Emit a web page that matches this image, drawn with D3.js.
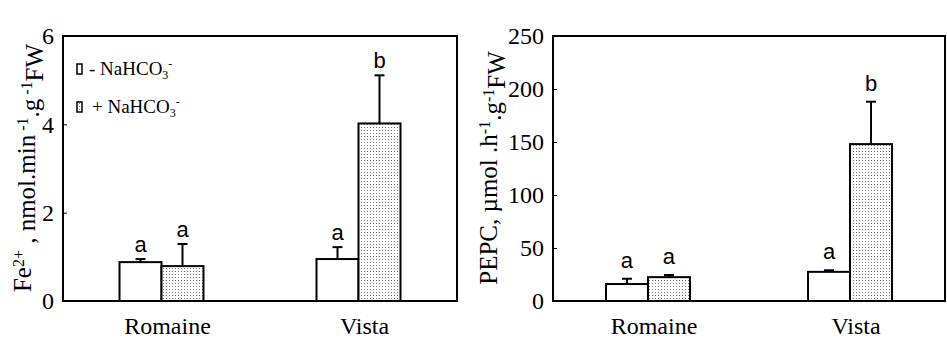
<!DOCTYPE html>
<html>
<head>
<meta charset="utf-8">
<script src="https://cdn.jsdelivr.net/npm/d3@7"></script>
<style>
  body { margin: 0; background: #fff; }
  svg { display: block; }
</style>
</head>
<body>
<div id="chart"></div>
<script>
// Data
const categories = ['Romaine', 'Vista'];
const treatments = ['minus', 'plus'];

const feMinus = [0.88, 0.95];
const feMinusErr = [0.07, 0.27];
const fePlus = [0.79, 4.02];
const fePlusErr = [0.5, 1.09];
const feLetters = [['a', 'a'], ['a', 'b']];
const feTicks = [0, 2, 4, 6];

const pepcMinus = [16, 27.5];
const pepcMinusErr = [5, 1.5];
const pepcPlus = [22.5, 148];
const pepcPlusErr = [2, 40];
const pepcLetters = [['a', 'a'], ['a', 'b']];
const pepcTicks = [0, 50, 100, 150, 200, 250];

const width = 947;
const height = 358;
const serif = 'Liberation Serif';
const sans = 'Liberation Sans';

const svg = d3.select('#chart')
    .append('svg')
    .attr('width', width)
    .attr('height', height);

// dotted fill for the + NaHCO3- bars
const defs = svg.append('defs');
const pat = defs.append('pattern')
    .attr('id', 'dots')
    .attr('patternUnits', 'userSpaceOnUse')
    .attr('width', 3)
    .attr('height', 3);
pat.append('rect').attr('width', 3).attr('height', 3).attr('fill', '#fff');
pat.append('rect').attr('x', 1).attr('y', 1).attr('width', 1).attr('height', 1).attr('fill', '#777');

function drawPanel(opts)
{
    const { left, right, top, bottom, yMax, ticks, minus, minusErr, plus, plusErr, letters, pad, letterGap } = opts;

    const xScale = d3.scalePoint()
        .domain(categories)
        .range([left, right])
        .padding(pad);

    const xInner = d3.scaleBand()
        .domain(treatments)
        .range([-42, 42]);

    const yScale = d3.scaleLinear()
        .domain([0, yMax])
        .range([bottom, top]);

    const g = svg.append('g');

    // y axis with inward ticks, labels drawn separately
    const yAxis = d3.axisRight(yScale)
        .tickValues(ticks)
        .tickSize(4)
        .tickFormat('');
    g.append('g')
        .attr('transform', `translate(${left}, 0)`)
        .call(yAxis)
        .call(a => a.select('.domain').remove())
        .call(a => a.selectAll('line').attr('stroke', '#000').attr('stroke-width', 1));

    g.selectAll('text.ylab')
        .data(ticks)
        .enter().append('text')
        .attr('class', 'ylab')
        .attr('x', left - 9)
        .attr('y', d => yScale(d))
        .attr('dy', '0.35em')
        .attr('text-anchor', 'end')
        .attr('font-family', serif)
        .attr('font-size', 24)
        .text(d => d);

    const rows = categories.map((c, i) => [
        { cat: c, t: 'minus', v: minus[i], e: minusErr[i], letter: letters[i][0] },
        { cat: c, t: 'plus', v: plus[i], e: plusErr[i], letter: letters[i][1] }
    ]).flat();

    const cx = d => xScale(d.cat) + xInner(d.t) + xInner.bandwidth() / 2;

    // error bars (drawn first so the bar outline sits on top)
    const eb = g.selectAll('g.err').data(rows).enter().append('g').attr('class', 'err');
    eb.append('line')
        .attr('x1', cx)
        .attr('x2', cx)
        .attr('y1', d => yScale(d.v))
        .attr('y2', d => yScale(d.v + d.e))
        .attr('stroke', '#000')
        .attr('stroke-width', 2);
    eb.append('line')
        .attr('x1', d => cx(d) - 5)
        .attr('x2', d => cx(d) + 5)
        .attr('y1', d => yScale(d.v + d.e))
        .attr('y2', d => yScale(d.v + d.e))
        .attr('stroke', '#000')
        .attr('stroke-width', 2);

    g.selectAll('rect.bar').data(rows).enter().append('rect')
        .attr('class', 'bar')
        .attr('x', d => xScale(d.cat) + xInner(d.t))
        .attr('y', d => yScale(d.v))
        .attr('width', xInner.bandwidth())
        .attr('height', d => yScale(0) - yScale(d.v))
        .attr('fill', d => d.t === 'plus' ? 'url(#dots)' : '#fff')
        .attr('stroke', '#000')
        .attr('stroke-width', 2);

    g.selectAll('text.letter').data(rows).enter().append('text')
        .attr('class', 'letter')
        .attr('x', cx)
        .attr('y', d => yScale(d.v + d.e) - letterGap)
        .attr('text-anchor', 'middle')
        .attr('font-family', sans)
        .attr('font-size', 22)
        .text(d => d.letter);

    // frame
    g.append('rect')
        .attr('x', left)
        .attr('y', top)
        .attr('width', right - left)
        .attr('height', bottom - top)
        .attr('fill', 'none')
        .attr('stroke', '#000')
        .attr('stroke-width', 2);

    g.selectAll('text.cat').data(categories).enter().append('text')
        .attr('class', 'cat')
        .attr('x', d => xScale(d) + 6)
        .attr('y', 334)
        .attr('text-anchor', 'middle')
        .attr('font-family', serif)
        .attr('font-size', 24)
        .text(d => d);

    return g;
}

// Left panel: Fe2+ reduction
drawPanel({
    left: 63, right: 457, top: 36, bottom: 301, yMax: 6, ticks: feTicks,
    minus: feMinus, minusErr: feMinusErr, plus: fePlus, plusErr: fePlusErr,
    letters: feLetters, pad: 0.5, letterGap: 7
});

// Right panel: PEPC
drawPanel({
    left: 553, right: 945, top: 36, bottom: 301, yMax: 250, ticks: pepcTicks,
    minus: pepcMinus, minusErr: pepcMinusErr, plus: pepcPlus, plusErr: pepcPlusErr,
    letters: pepcLetters, pad: 0.47, letterGap: 11
});

// y axis titles
function yTitle(x, y, parts)
{
    const t = svg.append('text')
        .attr('transform', `translate(${x}, ${y}) rotate(-90)`)
        .attr('text-anchor', 'middle')
        .attr('font-family', serif)
        .attr('font-size', 25);
    parts.forEach(p => {
        const s = t.append('tspan').text(p.text);
        if (p.sup) s.attr('dy', '-0.45em').attr('font-size', 16);
        if (p.back) s.attr('dy', '0.45em');
    });
}

yTitle(31, 168, [
    { text: 'Fe' }, { text: '2+', sup: true }, { text: ' , nmol.min', back: true },
    { text: ' -1', sup: true }, { text: '.g', back: true }, { text: ' -1', sup: true },
    { text: 'FW', back: true }
]);

yTitle(497, 168, [
    { text: 'PEPC, µmol .h' }, { text: '-1', sup: true }, { text: '.g', back: true },
    { text: '-1', sup: true }, { text: 'FW', back: true }
]);

// legend
const legendItems = ['- NaHCO', '+ NaHCO'];
const legend = svg.append('g');
legendItems.forEach((label, i) => {
    const yy = 69 + i * 38;
    legend.append('rect')
        .attr('x', 77)
        .attr('y', yy - 5)
        .attr('width', 5)
        .attr('height', 10)
        .attr('fill', i === 1 ? 'url(#dots)' : '#fff')
        .attr('stroke', '#000')
        .attr('stroke-width', 1.5);
    const t = legend.append('text')
        .attr('x', i === 1 ? 92 : 89)
        .attr('y', yy + 6)
        .attr('font-family', serif)
        .attr('font-size', 19);
    t.append('tspan').text(label);
    t.append('tspan').text('3').attr('dy', '0.3em').attr('font-size', 12);
    t.append('tspan').text('-').attr('dy', '-0.9em').attr('font-size', 12);
});
</script>
</body>
</html>
